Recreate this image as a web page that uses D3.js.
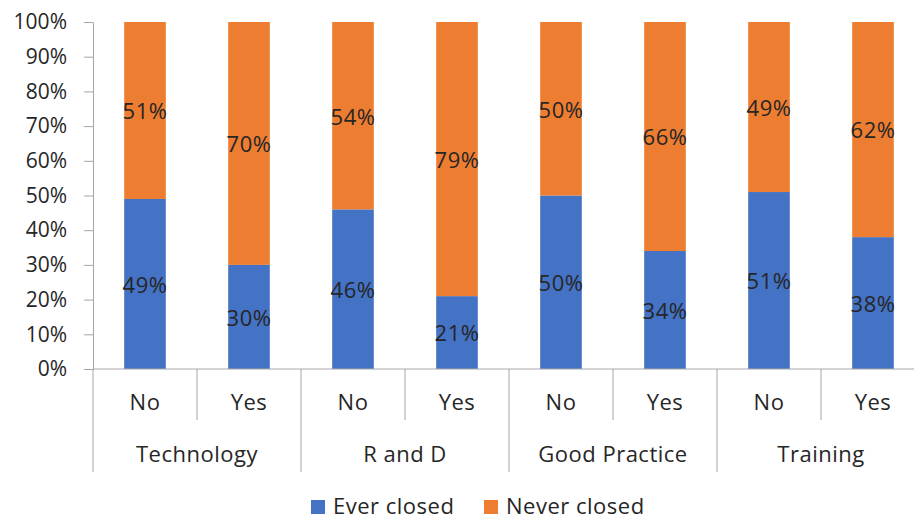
<!DOCTYPE html>
<html>
<head>
<meta charset="utf-8">
<script src="https://cdn.jsdelivr.net/npm/d3@7"></script>
<style>
  html, body { margin: 0; padding: 0; background: #fff; }
  svg { display: block; }
  text { font-family: "Open Sans", "Noto Sans", sans-serif; fill: #262626; }
</style>
</head>
<body>
<svg id="chart" width="914" height="520"></svg>
<script>
// Groups and the answer within each group
const groups = ["Technology", "R and D", "Good Practice", "Training"];
const answers = ["No", "Yes"];
// Share of firms (%) in each group/answer slot, in slot order
const everClosed  = [49, 30, 46, 21, 50, 34, 51, 38];
const neverClosed = [51, 70, 54, 79, 50, 66, 49, 62];
const seriesNames = ["Ever closed", "Never closed"];
const seriesColors = ["#4472C4", "#ED7D31"];
const yTicks = [0, 10, 20, 30, 40, 50, 60, 70, 80, 90, 100];

const svg = d3.select("#chart");
const margin = { left: 93, top: 22, bottom: 369 };
const slotWidth = 104;
const labelFont = 22;
const labelSpacing = "0.5px";

const slots = [];
groups.forEach(g => answers.forEach(a => slots.push({ group: g, answer: a })));
slots.forEach((s, i) => { s.key = s.group + "|" + s.answer; s.ever = everClosed[i]; s.never = neverClosed[i]; });

const x = d3.scaleBand()
  .domain(slots.map(s => s.key))
  .range([margin.left, margin.left + slotWidth * slots.length])
  .padding(0);

const y = d3.scaleLinear().domain([0, 100]).range([margin.bottom, margin.top]);

const axisColor = "#a6a6a6";

// Y axis with outward ticks
const yAxis = svg.append("g")
  .attr("transform", `translate(${margin.left},0)`)
  .call(d3.axisLeft(y).tickValues(yTicks).tickSize(9).tickSizeOuter(0).tickFormat(d => d + "%"));
yAxis.select(".domain").attr("stroke", axisColor);
yAxis.selectAll(".tick line").attr("stroke", axisColor);
yAxis.selectAll(".tick text")
  .attr("x", -26)
  .attr("font-size", 21)
  .style("font-family", "'Open Sans', sans-serif")
  .attr("fill", "#262626");

// Stacked bars
const stack = d3.stack().keys(["ever", "never"]);
const layers = stack(slots);
const barW = x.bandwidth() * 0.4;

layers.forEach((layer, li) => {
  const g = svg.append("g");
  g.selectAll("rect")
    .data(layer)
    .join("rect")
    .attr("x", d => x(d.data.key) + (x.bandwidth() - barW) / 2)
    .attr("width", barW)
    .attr("y", d => y(d[1]))
    .attr("height", d => y(d[0]) - y(d[1]))
    .attr("fill", seriesColors[li]);
  g.selectAll("text")
    .data(layer)
    .join("text")
    .attr("x", d => x(d.data.key) + x.bandwidth() / 2)
    .attr("y", d => y((d[0] + d[1]) / 2) + 1)
    .attr("dy", "0.36em")
    .attr("text-anchor", "middle")
    .attr("font-size", labelFont)
    .attr("letter-spacing", labelSpacing)
    .text(d => (d[1] - d[0]) + "%");
});

// X axis baseline
const xEnd = margin.left + slotWidth * slots.length;
svg.append("line")
  .attr("x1", margin.left).attr("x2", xEnd)
  .attr("y1", margin.bottom).attr("y2", margin.bottom)
  .attr("stroke", axisColor);

// Slot separators: short inside a group, long between groups
slots.forEach((s, i) => {
  const xp = x(s.key);
  const isGroupStart = i % answers.length === 0;
  svg.append("line")
    .attr("x1", xp).attr("x2", xp)
    .attr("y1", margin.bottom).attr("y2", isGroupStart ? 472 : 420)
    .attr("stroke", axisColor);
});
svg.append("line")
  .attr("x1", xEnd).attr("x2", xEnd)
  .attr("y1", margin.bottom).attr("y2", 472)
  .attr("stroke", axisColor);

// Answer labels
svg.append("g").selectAll("text")
  .data(slots)
  .join("text")
  .attr("x", d => x(d.key) + x.bandwidth() / 2)
  .attr("y", 402.5)
  .attr("dy", "0.36em")
  .attr("text-anchor", "middle")
  .attr("font-size", labelFont)
  .attr("letter-spacing", labelSpacing)
  .text(d => d.answer);

// Group labels
svg.append("g").selectAll("text")
  .data(groups)
  .join("text")
  .attr("x", g => x(g + "|" + answers[0]) + slotWidth * answers.length / 2)
  .attr("y", 454.5)
  .attr("dy", "0.36em")
  .attr("text-anchor", "middle")
  .attr("font-size", labelFont)
  .attr("letter-spacing", labelSpacing)
  .text(g => g);

// Legend
const legendX = [311, 484];
const legend = svg.append("g").selectAll("g")
  .data(seriesNames)
  .join("g")
  .attr("transform", (d, i) => `translate(${legendX[i]},500)`);
legend.append("rect")
  .attr("width", 14).attr("height", 14)
  .attr("fill", (d, i) => seriesColors[i]);
legend.append("text")
  .attr("x", 22)
  .attr("y", 14)
  .attr("font-size", labelFont)
  .attr("letter-spacing", labelSpacing)
  .text(d => d);
</script>
</body>
</html>
